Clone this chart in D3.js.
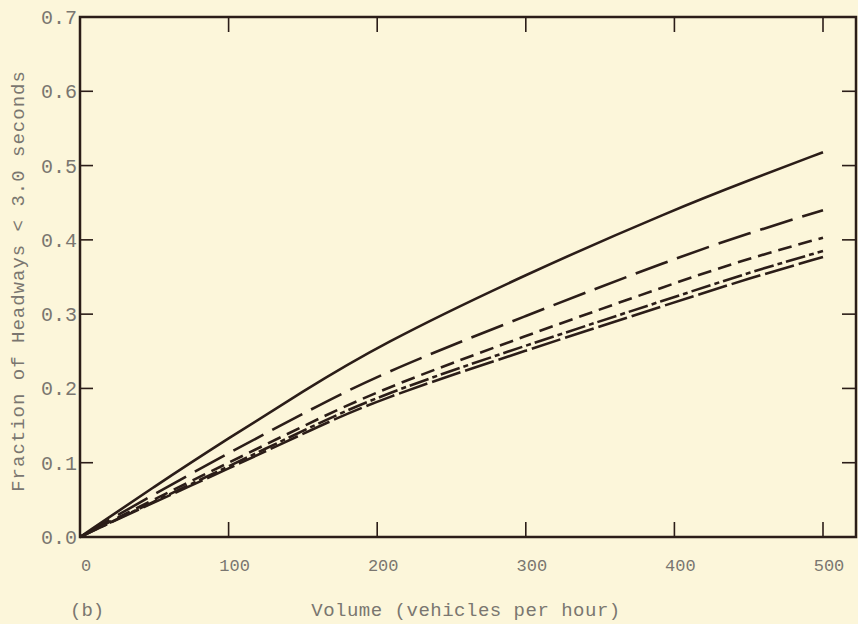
<!DOCTYPE html>
<html>
<head>
<meta charset="utf-8">
<script src="https://cdn.jsdelivr.net/npm/d3@7"></script>
<style>
  body { margin: 0; background: #fcf6da; }
  svg { display: block; }
  text { font-family: "Liberation Mono", "DejaVu Sans Mono", monospace; fill: #7a7670; }
</style>
</head>
<body>
<div id="main"></div>
<script>
const volumes = [0, 50, 100, 150, 200, 300, 400, 450, 500];
// fraction of headways < 3.0 s, one array per curve (top to bottom)
const solidCurve     = [0, 0.068, 0.133, 0.196, 0.257, 0.354, 0.441, 0.480, 0.518];
const longDashCurve  = [0, 0.058, 0.113, 0.166, 0.218, 0.298, 0.375, 0.409, 0.440];
const dashCurve      = [0, 0.051, 0.100, 0.149, 0.197, 0.271, 0.342, 0.375, 0.403];
const dashDotCurve   = [0, 0.048, 0.095, 0.143, 0.190, 0.258, 0.323, 0.356, 0.385];
const lowCurve       = [0, 0.047, 0.092, 0.139, 0.185, 0.251, 0.316, 0.348, 0.377];
const xTicks = [0, 100, 200, 300, 400, 500];
const yTicks = [0, 0.1, 0.2, 0.3, 0.4, 0.5, 0.6, 0.7];

function main() {
  const W = 858, H = 624;
  const svg = d3.select('#main').append('svg').attr('width', W).attr('height', H);
  const ink = '#2b1d18';

  const x = d3.scaleLinear().domain([0, 500]).range([80, 823]);
  const y = d3.scaleLinear().domain([0, 0.7]).range([537, 17]);
  const right = 856;

  // frame
  const frame = svg.append('g').attr('stroke', ink).attr('stroke-width', 2.5).attr('fill', 'none');
  frame.append('path').attr('d', `M${x(0)},${y(0.7)}H${right}V${y(0)}H${x(0)}Z`);

  // inward ticks on all four sides
  xTicks.slice(1).forEach(v => {
    frame.append('line').attr('x1', x(v)).attr('x2', x(v)).attr('y1', y(0)).attr('y2', y(0) - 15).attr('stroke-width', 1.6);
    frame.append('line').attr('x1', x(v)).attr('x2', x(v)).attr('y1', y(0.7)).attr('y2', y(0.7) + 15).attr('stroke-width', 1.6);
  });
  yTicks.slice(1, -1).forEach(v => {
    frame.append('line').attr('x1', x(0)).attr('x2', x(0) + 13).attr('y1', y(v)).attr('y2', y(v)).attr('stroke-width', 1.6);
    frame.append('line').attr('x1', right).attr('x2', right - 14).attr('y1', y(v)).attr('y2', y(v)).attr('stroke-width', 1.6);
  });

  // tick labels
  svg.append('g').selectAll('text').data(yTicks).enter().append('text')
    .attr('x', 77).attr('y', d => y(d)).attr('dy', '0.35em')
    .attr('text-anchor', 'end').attr('font-size', 20)
    .text(d => d.toFixed(1));
  svg.append('g').selectAll('text').data(xTicks).enter().append('text')
    .attr('x', d => x(d) + 6).attr('y', 571)
    .attr('text-anchor', 'middle').attr('font-size', 17)
    .text(d => d);

  // axis titles
  svg.append('text')
    .attr('transform', `translate(24,${(y(0) + y(0.7)) / 2 + 4}) rotate(-90)`)
    .attr('text-anchor', 'middle').attr('font-size', 19).attr('letter-spacing', 1)
    .text('Fraction of Headways < 3.0 seconds');
  svg.append('text').attr('x', 466).attr('y', 616).attr('text-anchor', 'middle')
    .attr('font-size', 19).attr('letter-spacing', 0.5)
    .text('Volume (vehicles per hour)');
  svg.append('text').attr('x', 70).attr('y', 616).attr('font-size', 19).text('(b)');

  // curves
  const series = [
    { values: solidCurve, dash: null },
    { values: longDashCurve, dash: '34,10' },
    { values: dashCurve, dash: '14,7' },
    { values: dashDotCurve, dash: '20,4,5,4' },
    { values: lowCurve, dash: '30,5' }
  ];
  const line = d3.line()
    .x((d, i) => x(volumes[i]))
    .y(d => y(d))
    .curve(d3.curveBasis);
  svg.append('g').selectAll('path').data(series).enter().append('path')
    .attr('d', d => line(d.values))
    .attr('fill', 'none')
    .attr('stroke', ink)
    .attr('stroke-width', 2.6)
    .attr('stroke-dasharray', d => d.dash);
}
document.addEventListener('DOMContentLoaded', main);
</script>
</body>
</html>
